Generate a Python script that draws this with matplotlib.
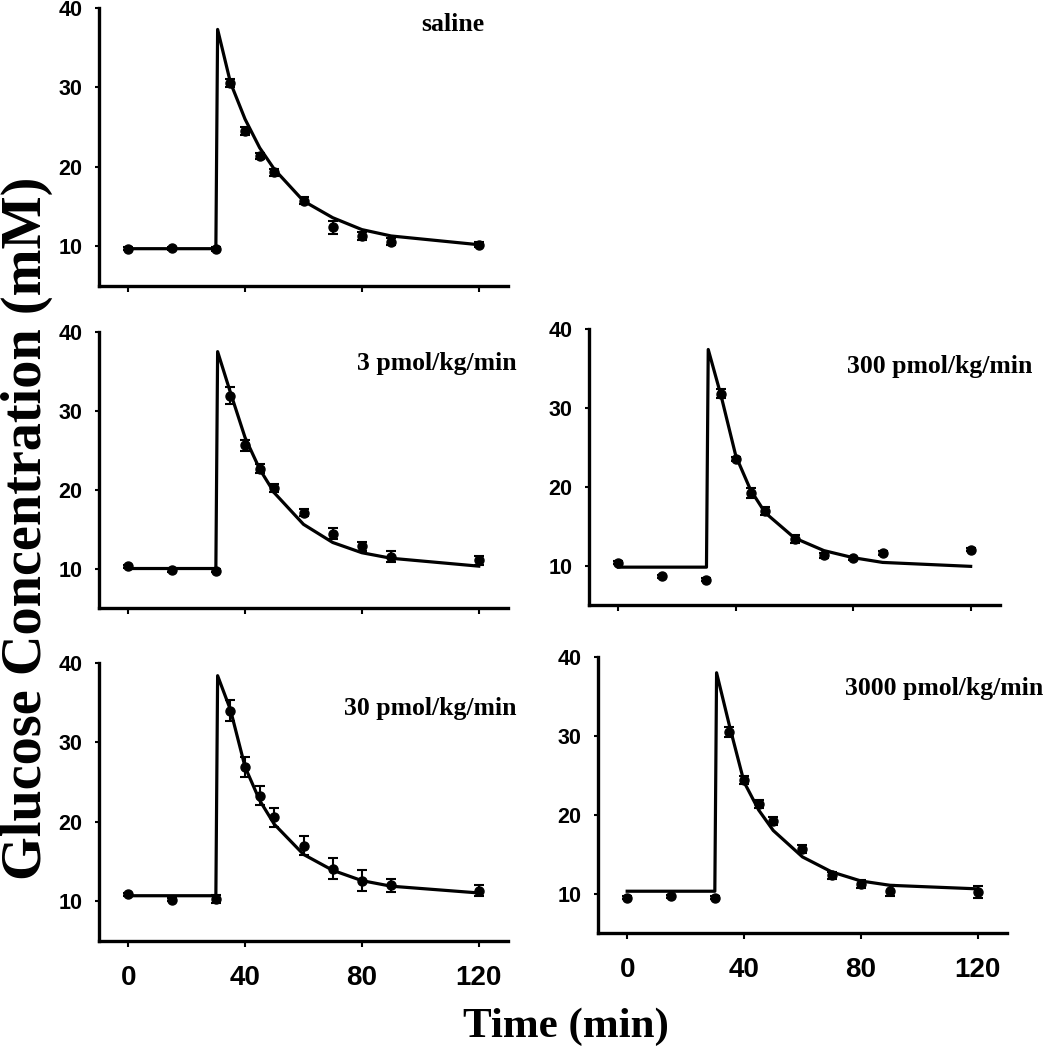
import matplotlib

matplotlib.use("Agg")

import matplotlib.pyplot as plt

# sampling times (min) of the measured glucose and of the model fit
t_data = [0, 15, 30, 35, 40, 45, 50, 60, 70, 80, 90, 120]
t_fit = [0, 30, 30.6, 35, 40, 45, 50, 60, 70, 80, 90, 120]

saline_mean = [9.7, 9.75, 9.65, 30.5, 24.5, 21.4, 19.3, 15.75, 12.4, 11.3, 10.6, 10.2]
saline_err = [0.2, 0.2, 0.2, 0.5, 0.5, 0.4, 0.4, 0.4, 0.8, 0.5, 0.4, 0.3]
saline_fit = [9.7, 9.7, 37.3, 30.6, 26.0, 22.4, 19.7, 15.7, 13.6, 12.1, 11.3, 10.2]

dose3_mean = [10.3, 9.8, 9.7, 31.9, 25.65, 22.65, 20.25, 17.1, 14.4, 12.8, 11.5, 11.05]
dose3_err = [0.2, 0.2, 0.2, 1.1, 0.7, 0.6, 0.5, 0.5, 0.7, 0.6, 0.7, 0.6]
dose3_fit = [10.0, 10.0, 37.5, 32.3, 26.6, 22.6, 19.6, 15.6, 13.3, 12.0, 11.3, 10.3]

dose30_mean = [10.9, 10.2, 10.3, 34.0, 26.9, 23.3, 20.6, 17.0, 14.1, 12.6, 12.0, 11.35]
dose30_err = [0.2, 0.2, 0.5, 1.3, 1.3, 1.2, 1.2, 1.2, 1.3, 1.3, 0.8, 0.7]
dose30_fit = [10.7, 10.7, 38.4, 34.1, 26.9, 22.7, 19.7, 15.9, 13.9, 12.6, 11.9, 11.05]

dose300_mean = [10.35, 8.65, 8.2, 31.8, 23.5, 19.2, 16.9, 13.4, 11.3, 10.9, 11.6, 12.0]
dose300_err = [0.2, 0.2, 0.2, 0.6, 0.3, 0.6, 0.5, 0.5, 0.3, 0.2, 0.2, 0.2]
dose300_fit = [9.8, 9.8, 37.4, 31.5, 23.9, 19.6, 16.7, 13.5, 11.9, 11.0, 10.4, 9.9]

dose3000_mean = [9.5, 9.65, 9.5, 30.5, 24.45, 21.4, 19.2, 15.7, 12.3, 11.2, 10.35, 10.2]
dose3000_err = [0.2, 0.2, 0.2, 0.6, 0.5, 0.5, 0.5, 0.5, 0.5, 0.5, 0.7, 0.7]
dose3000_fit = [10.3, 10.3, 38.0, 31.3, 24.15, 20.6, 18.0, 14.65, 12.75, 11.6, 11.05, 10.6]

panel_labels = ["saline", "3 pmol/kg/min", "30 pmol/kg/min", "300 pmol/kg/min", "3000 pmol/kg/min"]

x_ticks = [0, 40, 80, 120]
y_ticks = [10, 20, 30, 40]

SERIF = ["Liberation Serif", "DejaVu Serif"]
SANS = ["Liberation Sans", "DejaVu Sans"]

# (left, bottom, width, height) in figure fraction, label position in data units
PANELS = [
    ((0.0943, 0.7276, 0.3895, 0.2648), saline_mean, saline_err, saline_fit, (122, 37.9), False),
    ((0.0943, 0.4210, 0.3895, 0.2629), dose3_mean, dose3_err, dose3_fit, (133, 36.0), False),
    ((0.0943, 0.1038, 0.3895, 0.2648), dose30_mean, dose30_err, dose30_fit, (133, 34.3), True),
    ((0.5610, 0.4238, 0.3914, 0.2629), dose300_mean, dose300_err, dose300_fit, (141, 35.2), False),
    ((0.5695, 0.1114, 0.3895, 0.2629), dose3000_mean, dose3000_err, dose3000_fit, (142.5, 36.0), True),
]


def draw_panel(fig, rect, mean, err, fit, label, label_xy, show_x):
    ax = fig.add_axes(rect)
    ax.plot(t_fit, fit, color="black", lw=2.3, zorder=2)
    ax.errorbar(
        t_data, mean, yerr=err, fmt="o", color="black", ms=6.5,
        elinewidth=1.5, capsize=3.5, capthick=1.5, zorder=3,
    )
    ax.set_xlim(-10, 130)
    ax.set_ylim(5, 40)
    ax.set_xticks(x_ticks)
    ax.set_yticks(y_ticks)
    for side in ("top", "right"):
        ax.spines[side].set_visible(False)
    for side in ("left", "bottom"):
        ax.spines[side].set_linewidth(2.4)
    ax.tick_params(axis="y", length=3, width=1.5, pad=9)
    ax.tick_params(axis="x", length=4, width=1.5, pad=13)
    for lab in ax.get_yticklabels():
        lab.set_fontfamily(SANS)
        lab.set_fontweight("bold")
        lab.set_fontsize(15.5)
    if show_x:
        for lab in ax.get_xticklabels():
            lab.set_fontfamily(SANS)
            lab.set_fontweight("bold")
            lab.set_fontsize(20)
    else:
        ax.set_xticklabels([])
    ax.text(
        label_xy[0], label_xy[1], label, ha="right", va="center",
        fontsize=18.5, fontweight="bold", family=SERIF, clip_on=False,
    )
    return ax


def main() -> None:
    fig = plt.figure(figsize=(10.5, 10.5), dpi=100)

    for (rect, mean, err, fit, label_xy, show_x), label in zip(PANELS, panel_labels):
        draw_panel(fig, rect, mean, err, fit, label, label_xy, show_x)

    fig.text(0.039, 0.497, "Glucose Concentration (mM)", rotation=90,
             rotation_mode="anchor", ha="center", va="baseline",
             fontsize=40.5, fontweight="bold", family=SERIF)
    fig.text(0.539, 0.022, "Time (min)", ha="center", va="center",
             fontsize=31, fontweight="bold", family=SERIF)

    fig.savefig("out.png", dpi=100)
    plt.close(fig)


if __name__ == "__main__":
    main()
